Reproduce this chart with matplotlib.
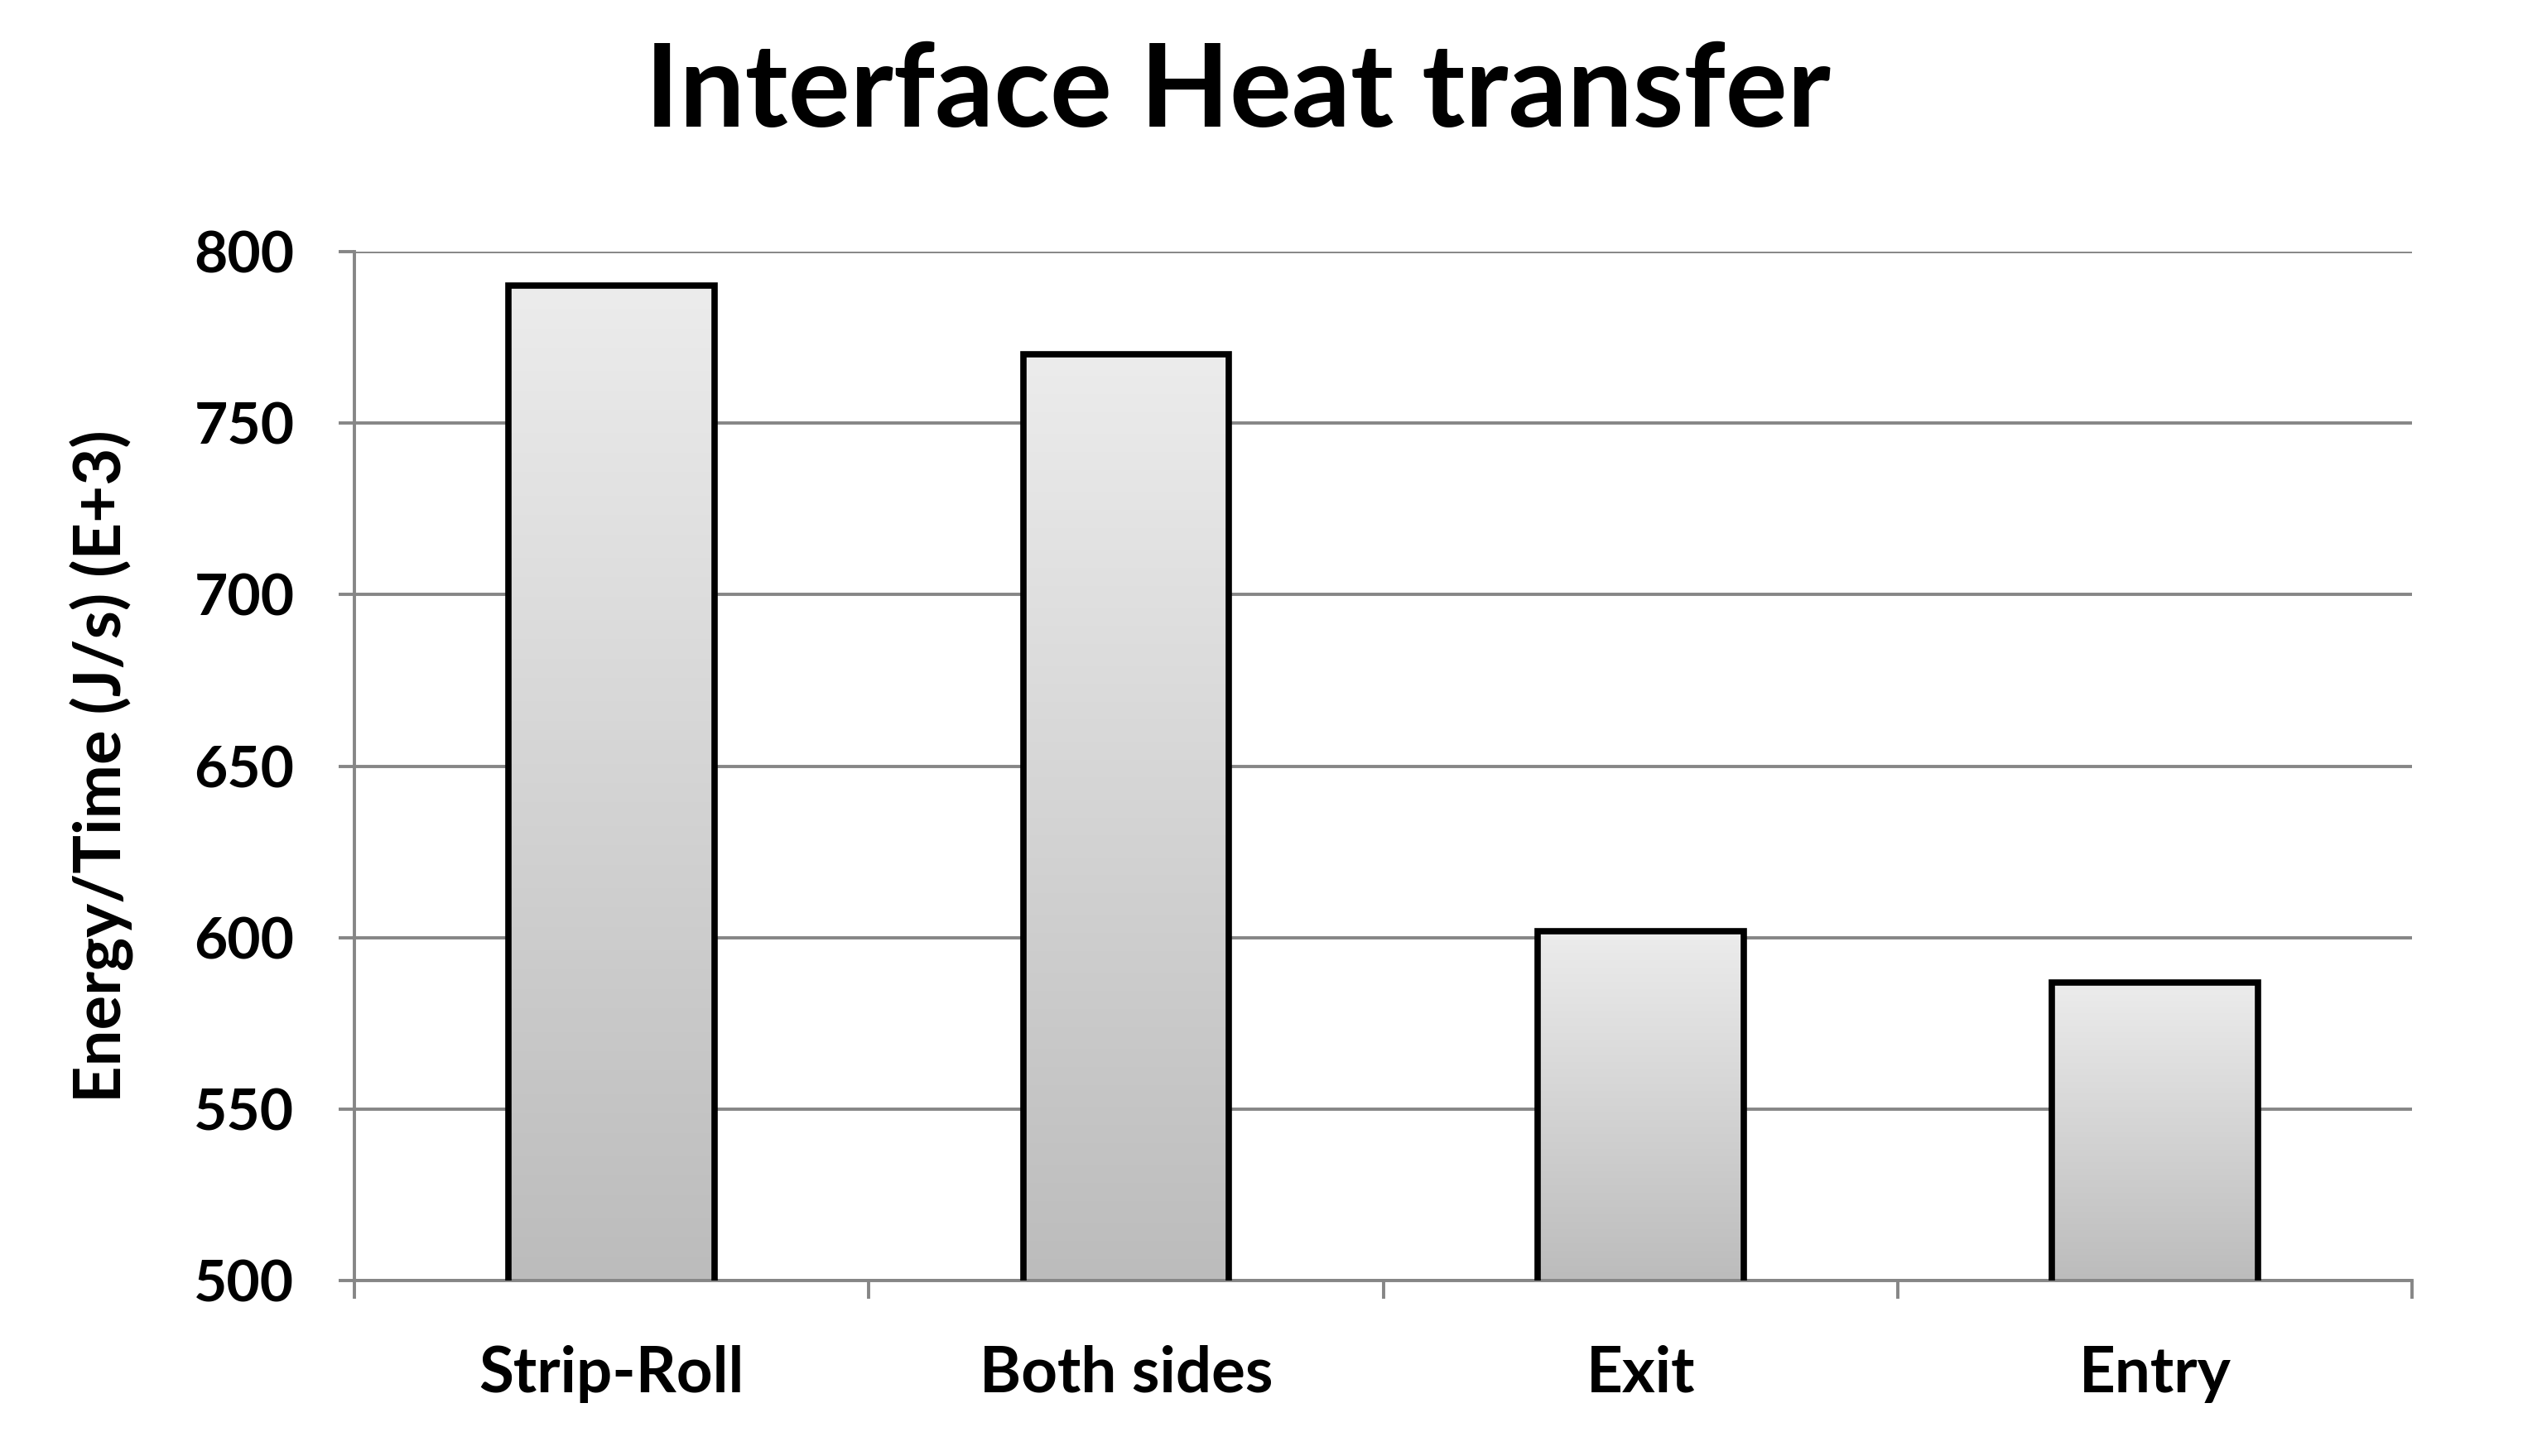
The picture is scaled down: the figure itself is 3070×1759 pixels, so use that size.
import matplotlib
matplotlib.use("Agg")
from matplotlib import pyplot as plt
import numpy as np

categories = ["Strip-Roll", "Both sides", "Exit", "Entry"]
values = [790, 770, 602, 587]
yticks = [500, 550, 600, 650, 700, 750, 800]

plt.rcParams["font.family"] = ["Lato", "DejaVu Sans"]
plt.rcParams["font.weight"] = "bold"

fig = plt.figure(figsize=(30.70, 17.59), dpi=100)
ax = fig.add_axes([0.1393, 0.1204, 0.8097, 0.7068])

x = np.arange(len(categories))
bars = ax.bar(x, values, width=0.4, color="none", edgecolor="black",
              linewidth=5.5, zorder=3)

# vertical grey gradient inside each bar
grad = np.linspace(0, 1, 256).reshape(-1, 1)
cmap = matplotlib.colors.LinearSegmentedColormap.from_list("g", ["#bcbcbc", "#ececec"])
for b in bars:
    x0, w, h = b.get_x(), b.get_width(), b.get_height()
    im = ax.imshow(grad, extent=[x0, x0 + w, 500, h], origin="lower", aspect="auto",
                   cmap=cmap, zorder=2)
    im.set_clip_path(b)

ax.set_xlim(-0.5, len(categories) - 0.5)
ax.set_ylim(500, 800)
ax.set_yticks(yticks)
ax.set_xticks(x)
ax.set_xticklabels(categories)
ax.set_xticks(np.arange(len(categories) + 1) - 0.5, minor=True)

ax.grid(True, axis="y", color="#868686", linewidth=2.8, zorder=1)
for side in ["top", "right"]:
    ax.spines[side].set_visible(False)
for side in ["left", "bottom"]:
    ax.spines[side].set_color("#868686")
    ax.spines[side].set_linewidth(2.8)

ax.tick_params(axis="y", length=14, width=2.8, color="#868686", pad=38, labelsize=50)
ax.tick_params(axis="x", which="major", length=0, pad=56, labelsize=55)
ax.tick_params(axis="x", which="minor", length=16, width=2.8, color="#868686")

ax.set_ylabel("Energy/Time (J/s) (E+3)", fontsize=56, fontweight="bold", labelpad=52)
fig.suptitle("Interface Heat transfer", fontsize=101, fontweight="bold", x=0.487, y=0.972)

fig.savefig("out.png", dpi=100)
